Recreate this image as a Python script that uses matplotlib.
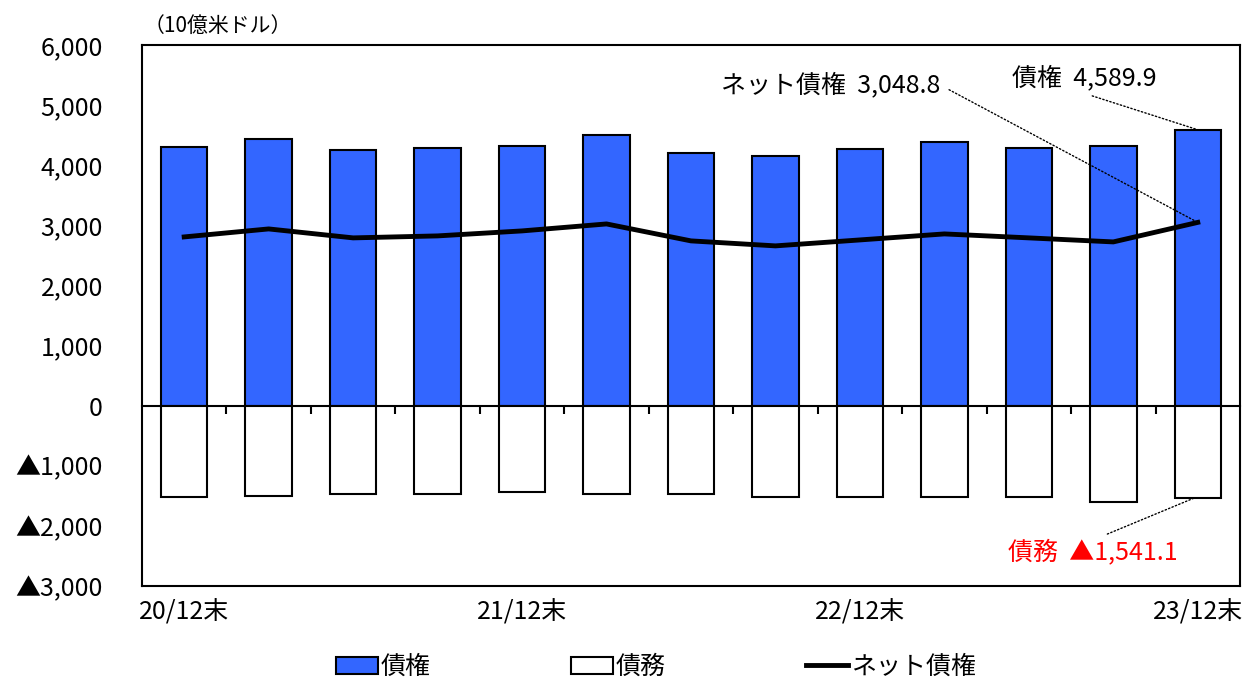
import matplotlib
matplotlib.use("Agg")
import matplotlib.pyplot as plt
import numpy as np

plt.rcParams['font.family'] = ['Noto Sans CJK JP', 'DejaVu Sans']

# quarterly values, 10億米ドル
periods = ["20/12末", "", "", "", "21/12末", "", "", "", "22/12末", "", "", "", "23/12末"]
assets = [4302, 4435, 4252, 4286, 4319, 4502, 4203, 4153, 4269, 4385, 4286, 4319, 4589.9]
liabilities = [-1512, -1495, -1462, -1462, -1429, -1478, -1478, -1512, -1512, -1528, -1512, -1611, -1541.1]
net = [2807, 2940, 2791, 2824, 2907, 3023, 2741, 2658, 2757, 2857, 2791, 2724, 3048.8]

yticks = [-3000, -2000, -1000, 0, 1000, 2000, 3000, 4000, 5000, 6000]
ylabels = ["▲3,000", "▲2,000", "▲1,000", "0", "1,000", "2,000", "3,000", "4,000", "5,000", "6,000"]

blue = "#3366FF"
fs = 18

fig = plt.figure(figsize=(12.44, 6.88), dpi=100)
ax = fig.add_axes([0.1141, 0.1483, 0.8827, 0.7863])

x = np.arange(len(periods))
b1 = ax.bar(x, assets, width=0.55, color=blue, edgecolor="black", linewidth=1.5, label="債権", zorder=2)
b2 = ax.bar(x, liabilities, width=0.55, color="white", edgecolor="black", linewidth=1.5, label="債務", zorder=2)
l1, = ax.plot(x, net, color="black", linewidth=3.5, label="ネット債権", zorder=3)

ax.set_xlim(-0.5, len(periods) - 0.5)
ax.set_ylim(-3000, 6000)
ax.set_yticks(yticks)
ax.set_yticklabels(ylabels, fontsize=fs)
ax.tick_params(axis="y", length=0, pad=28)

lab_idx = [i for i, p in enumerate(periods) if p]
ax.set_xticks(lab_idx)
ax.set_xticklabels([periods[i] for i in lab_idx], fontsize=fs)
ax.tick_params(axis="x", length=0, pad=10)

for s in ax.spines.values():
    s.set_linewidth(1.5)

# zero line with boundary ticks
sec = ax.secondary_xaxis(3000 / 9000)
sec.set_xticks(np.arange(0.5, len(periods) - 1, 1))
sec.set_xticklabels([])
sec.tick_params(direction="out", length=6, width=1.5)
sec.spines["bottom"].set_linewidth(1.5)

fig.text(0.115, 0.962, "（10億米ドル）", fontsize=15, ha="left", va="center")

line_kw = dict(arrowstyle="-", linestyle=":", linewidth=1.0, color="black", shrinkA=5, shrinkB=0)
last = len(periods) - 1
ax.annotate(f"ネット債権  {net[-1]:,.1f}", xy=(last, net[-1]), xytext=(8.95, 5335),
            ha="right", va="center", fontsize=fs,
            arrowprops=dict(relpos=(1, 0.5), **line_kw))
ax.annotate(f"債権  {assets[-1]:,.1f}", xy=(last, assets[-1]), xytext=(9.80, 5451),
            ha="left", va="center", fontsize=fs,
            arrowprops=dict(relpos=(0.45, 0), **line_kw))
ax.annotate(f"債務  ▲{-liabilities[-1]:,.1f}", xy=(last - 0.05, liabilities[-1]), xytext=(9.75, -2443),
            ha="left", va="center", fontsize=fs, color="#FF0000",
            arrowprops=dict(relpos=(0.51, 1), **line_kw))

fig.legend(handles=[b1, b2, l1], loc="center", bbox_to_anchor=(0.527, 0.0305), ncol=3, frameon=False,
           fontsize=fs, handlelength=1.7, handletextpad=0.1, columnspacing=5.6)

fig.savefig("out.png", dpi=100)
